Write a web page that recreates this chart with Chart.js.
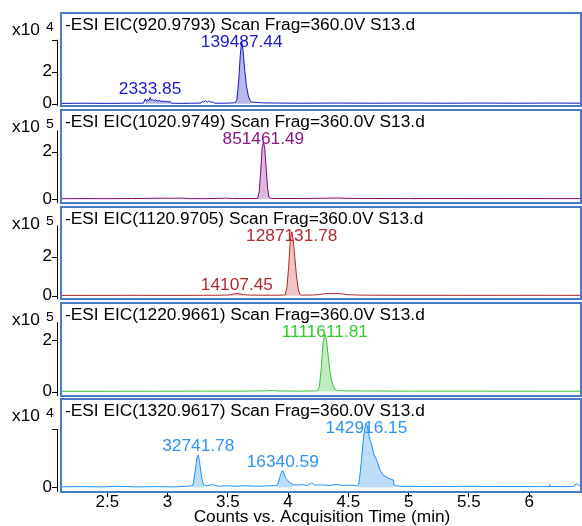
<!DOCTYPE html>
<html>
<head>
<meta charset="utf-8">
<script src="https://cdn.jsdelivr.net/npm/chart.js@4.4.1/dist/chart.umd.min.js"></script>
<style>
body { margin: 0; background: #fff; width: 582px; height: 526px; overflow: hidden; position: relative; }
canvas { position: absolute; left: 0; }
</style>
</head>
<body>
<canvas id="c1"></canvas>
<canvas id="c2"></canvas>
<canvas id="c3"></canvas>
<canvas id="c4"></canvas>
<canvas id="c5"></canvas>
<script>
// time (min), counts
const trace1 = [[2.12,200],[2.3,300],[2.5,200],[2.65,300],[2.8,300],[2.815,3000],[2.825,1500],[2.835,2600],[2.845,1800],[2.855,3800],[2.865,2200],[2.875,2700],[2.885,1900],[2.9,2400],[2.915,1600],[2.93,2000],[2.945,1400],[2.96,1700],[2.975,1200],[2.99,1500],[3.005,1100],[3.02,1400],[3.035,300],[3.1,200],[3.2,300],[3.28,400],[3.29,1600],[3.3,900],[3.315,1900],[3.33,1000],[3.345,1700],[3.36,800],[3.375,1200],[3.39,300],[3.45,300],[3.52,400],[3.56,600],[3.575,2500],[3.59,14000],[3.603,30000],[3.615,39000],[3.627,33000],[3.64,21000],[3.655,11000],[3.67,5000],[3.685,2000],[3.7,1000],[3.75,700],[3.8,500],[3.9,400],[4.1,300],[4.4,400],[4.7,300],[5.0,400],[5.3,300],[5.6,400],[5.9,300],[6.2,400],[6.43,300]];
const trace2 = [[2.12,1000],[2.3,1500],[2.5,1200],[2.7,1800],[2.85,2500],[2.95,3500],[3.05,2800],[3.12,4000],[3.18,1500],[3.3,1200],[3.42,2500],[3.48,3500],[3.54,2000],[3.65,1500],[3.72,1800],[3.748,2500],[3.76,30000],[3.772,110000],[3.784,210000],[3.795,242000],[3.806,215000],[3.818,130000],[3.83,45000],[3.842,6000],[3.86,2500],[3.95,2000],[4.1,2000],[4.3,3000],[4.4,4000],[4.5,2500],[4.7,2000],[5.0,1500],[5.3,1800],[5.6,1500],[5.9,1700],[6.2,1500],[6.43,1500]];
const trace3 = [[2.12,1500],[2.4,1500],[2.7,2000],[3.0,1500],[3.3,2000],[3.45,2500],[3.52,4000],[3.55,9000],[3.575,11000],[3.6,9000],[3.63,5000],[3.68,3000],[3.8,2500],[3.9,2500],[3.96,3000],[3.975,4000],[3.99,40000],[4.005,150000],[4.018,280000],[4.03,328000],[4.042,290000],[4.055,200000],[4.07,100000],[4.085,30000],[4.099,5000],[4.11,3000],[4.2,3500],[4.26,6000],[4.32,11000],[4.38,12000],[4.44,10000],[4.49,5000],[4.6,3000],[4.9,2000],[5.2,2000],[5.6,1800],[6.0,2000],[6.43,1800]];
const trace4 = [[2.12,1000],[2.5,1000],[2.9,1200],[3.3,1500],[3.6,1500],[3.83,2500],[3.87,4000],[3.91,2000],[4.1,1500],[4.22,2000],[4.245,3000],[4.26,20000],[4.275,90000],[4.29,190000],[4.305,225000],[4.318,200000],[4.332,140000],[4.347,80000],[4.362,40000],[4.377,18000],[4.392,8000],[4.41,4000],[4.45,2500],[4.6,2000],[5.0,1500],[5.5,1500],[6.0,1200],[6.43,1200]];
const trace5 = [[2.12,100],[2.3,150],[2.45,100],[2.6,200],[2.75,100],[2.9,150],[3.05,100],[3.15,200],[3.205,300],[3.215,800],[3.23,3000],[3.245,5200],[3.255,5600],[3.265,4500],[3.278,2500],[3.29,1000],[3.302,400],[3.33,300],[3.38,500],[3.42,200],[3.5,300],[3.55,200],[3.65,300],[3.75,200],[3.85,300],[3.905,300],[3.92,900],[3.935,2000],[3.948,2800],[3.956,2860],[3.965,2500],[3.975,1800],[3.985,1500],[3.995,1300],[4.01,900],[4.025,700],[4.04,500],[4.08,400],[4.12,500],[4.16,350],[4.196,800],[4.22,400],[4.28,450],[4.34,350],[4.4,500],[4.46,350],[4.52,400],[4.56,300],[4.575,300],[4.585,500],[4.598,2500],[4.611,5300],[4.622,7800],[4.632,9500],[4.645,11000],[4.655,10800],[4.665,9600],[4.68,8200],[4.694,7300],[4.71,5800],[4.736,4700],[4.763,3000],[4.79,2100],[4.819,1750],[4.845,1500],[4.873,1300],[4.88,300],[4.95,200],[5.2,150],[5.5,200],[5.8,150],[6.1,150],[6.165,150],[6.17,500],[6.175,150],[6.35,150],[6.38,300],[6.39,700],[6.41,400],[6.43,300]];

const titles = [
  '-ESI EIC(920.9793) Scan Frag=360.0V S13.d',
  '-ESI EIC(1020.9749) Scan Frag=360.0V S13.d',
  '-ESI EIC(1120.9705) Scan Frag=360.0V S13.d',
  '-ESI EIC(1220.9661) Scan Frag=360.0V S13.d',
  '-ESI EIC(1320.9617) Scan Frag=360.0V S13.d'
];

const peakTimes1 = [2.855, 3.615], peakLabels1 = ['2333.85', '139487.44'];
const peakTimes2 = [3.795], peakLabels2 = ['851461.49'];
const peakTimes3 = [3.575, 4.03], peakLabels3 = ['14107.45', '1287131.78'];
const peakTimes4 = [4.305], peakLabels4 = ['1111611.81'];
const peakTimes5 = [3.255, 3.956, 4.65], peakLabels5 = ['32741.78', '16340.59', '142916.15'];

const windows1 = [[2.81, 3.035], [3.56, 3.7]];
const windows2 = [[3.748, 3.842]];
const windows3 = [[3.52, 3.63], [3.975, 4.099]];
const windows4 = [[4.245, 4.41]];
const windows5 = [[3.205, 3.302], [3.905, 4.04], [4.575, 4.88]];

const xTicks = [2.5, 3, 3.5, 4, 4.5, 5, 5.5, 6];
const xTitle = 'Counts vs. Acquisition Time (min)';

const panels = [
  { id: 'c1', trace: trace1, peaks: peakTimes1, labels: peakLabels1, windows: windows1, top: 13, bottom: 106, min: -1440, max: 56700, exp: 4, ticks: [0, 20000, 40000], shown: [0, 20000], axisTop: 40000, line: '#1414c8', fill: '#b8b8ea', text: '#1a1acc' },
  { id: 'c2', trace: trace2, peaks: peakTimes2, labels: peakLabels2, windows: windows2, top: 110, bottom: 203, min: -17000, max: 376000, exp: 5, ticks: [0, 200000], shown: [0, 200000], axisTop: 290000, line: '#800080', fill: '#dcbadc', text: '#8b168b' },
  { id: 'c3', trace: trace3, peaks: peakTimes3, labels: peakLabels3, windows: windows3, top: 207, bottom: 299, min: -17000, max: 455000, exp: 5, ticks: [0, 200000], shown: [0, 200000], axisTop: 360000, line: '#b22222', fill: '#eec6c6', text: '#b02c2c' },
  { id: 'c4', trace: trace4, peaks: peakTimes4, labels: peakLabels4, windows: windows4, top: 303, bottom: 396, min: -17400, max: 343000, exp: 5, ticks: [0, 200000], shown: [0, 200000], axisTop: 269000, line: '#3cc03c', fill: '#c0ecc0', text: '#33cc33' },
  { id: 'c5', trace: trace5, peaks: peakTimes5, labels: peakLabels5, windows: windows5, top: 399, bottom: 492, min: -780, max: 15260, exp: 4, ticks: [0, 10000], shown: [0], axisTop: 10000, line: '#1e8fff', fill: '#bcdcf8', text: '#2e93f5' }
];

const FONT = '"Liberation Sans", Arial, sans-serif';

// text in the reference is a bit wider than Arial, so stretch it
function wideText(ctx, str, x, y, align, size) {
  ctx.save();
  ctx.font = size + 'px ' + FONT;
  ctx.textAlign = align;
  ctx.textBaseline = 'alphabetic';
  ctx.translate(x, y);
  ctx.scale(1.08, 1);
  ctx.fillText(str, 0, 0);
  ctx.restore();
}

const panelDeco = {
  id: 'panelDeco',
  afterDraw(chart) {
    const opts = chart.config.options.plugins.panelDeco;
    const p = opts.panel;
    const ctx = chart.ctx, ca = chart.chartArea;
    const xs = chart.scales.x, ys = chart.scales.y;

    // frame
    ctx.save();
    ctx.strokeStyle = '#4a7cc6';
    ctx.lineWidth = 2;
    ctx.strokeRect(ca.left, ca.top, ca.right - ca.left, ca.bottom - ca.top);

    // y axis line and tick marks, just left of the frame
    ctx.strokeStyle = '#000';
    ctx.lineWidth = 1;
    ctx.beginPath();
    ctx.moveTo(ca.left - 3.5, ys.getPixelForValue(p.axisTop));
    ctx.lineTo(ca.left - 3.5, ca.bottom);
    p.ticks.forEach(v => {
      const py = Math.round(ys.getPixelForValue(v)) + 0.5;
      ctx.moveTo(ca.left - 9, py);
      ctx.lineTo(ca.left - 3.5, py);
    });
    ctx.stroke();

    // title and multiplier
    ctx.fillStyle = '#000';
    wideText(ctx, titles[opts.index], ca.left + 4, ca.top + 17, 'left', 16);
    wideText(ctx, 'x10', 12, ca.top + 22, 'left', 16);
    wideText(ctx, String(p.exp), 46, ca.top + 18, 'left', 13);

    // peak labels
    ctx.fillStyle = p.text;
    p.peaks.forEach((t, i) => {
      let vmax = 0;
      p.trace.forEach(([tt, v]) => { if (Math.abs(tt - t) <= 0.03 && v > vmax) vmax = v; });
      const px = xs.getPixelForValue(t);
      const base = Math.max(ca.top + 34, ys.getPixelForValue(vmax) - 4);
      wideText(ctx, p.labels[i], px, base, 'center', 16);
    });

    if (opts.last) {
      ctx.fillStyle = '#000';
      wideText(ctx, xTitle, 322, chart.height - 4, 'center', 16);
    }
    ctx.restore();
  }
};

panels.forEach((p, i) => {
  const last = i === panels.length - 1;
  const canvas = document.getElementById(p.id);
  const cTop = p.top - 2;
  const cHeight = last ? 526 - cTop : p.bottom - p.top + 4;
  canvas.width = 582;
  canvas.height = cHeight;
  canvas.style.width = '582px';
  canvas.style.height = cHeight + 'px';
  canvas.style.top = cTop + 'px';

  const datasets = [{
    data: p.trace.map(([t, v]) => ({ x: t, y: v })),
    borderColor: p.line,
    borderWidth: 1,
    pointRadius: 0,
    fill: false,
    tension: 0,
    order: 0
  }];
  p.windows.forEach(w => {
    datasets.push({
      data: p.trace.filter(([t]) => t >= w[0] && t <= w[1]).map(([t, v]) => ({ x: t, y: v })),
      borderWidth: 0,
      pointRadius: 0,
      backgroundColor: p.fill,
      fill: 'origin',
      tension: 0,
      order: 1
    });
  });

  new Chart(canvas.getContext('2d'), {
    type: 'line',
    data: { datasets },
    options: {
      responsive: false,
      maintainAspectRatio: false,
      animation: false,
      devicePixelRatio: 1,
      layout: { padding: { top: 2, bottom: last ? 0 : 2, left: 0, right: 1 } },
      scales: {
        x: {
          type: 'linear',
          min: 2.116,
          max: 6.43,
          display: last,
          afterFit: s => {
            s.height = last ? 34 : 0;
            s.paddingLeft = 0; s.paddingRight = 0;
          },
          afterBuildTicks: s => { s.ticks = xTicks.map(v => ({ value: v })); },
          grid: { display: true, drawOnChartArea: false, drawTicks: true, tickLength: 5, color: '#000' },
          border: { display: false },
          ticks: { color: '#000', padding: -5, maxRotation: 0, autoSkip: false, font: { family: FONT, size: 17 }, callback: v => String(v) }
        },
        y: {
          type: 'linear',
          min: p.min,
          max: p.max,
          afterFit: s => {
            s.width = 61;
            s.paddingTop = 0; s.paddingBottom = 0;
          },
          afterBuildTicks: s => { s.ticks = p.ticks.map(v => ({ value: v })); },
          grid: { display: false, drawTicks: false },
          border: { display: false },
          ticks: {
            color: '#000',
            padding: 9,
            font: { family: FONT, size: 17 },
            callback: v => p.shown.includes(v) ? String(v / Math.pow(10, p.exp)) : ''
          }
        }
      },
      plugins: {
        legend: { display: false },
        tooltip: { enabled: false },
        panelDeco: { panel: p, index: i, last }
      }
    },
    plugins: [panelDeco]
  });
});
</script>
</body>
</html>
